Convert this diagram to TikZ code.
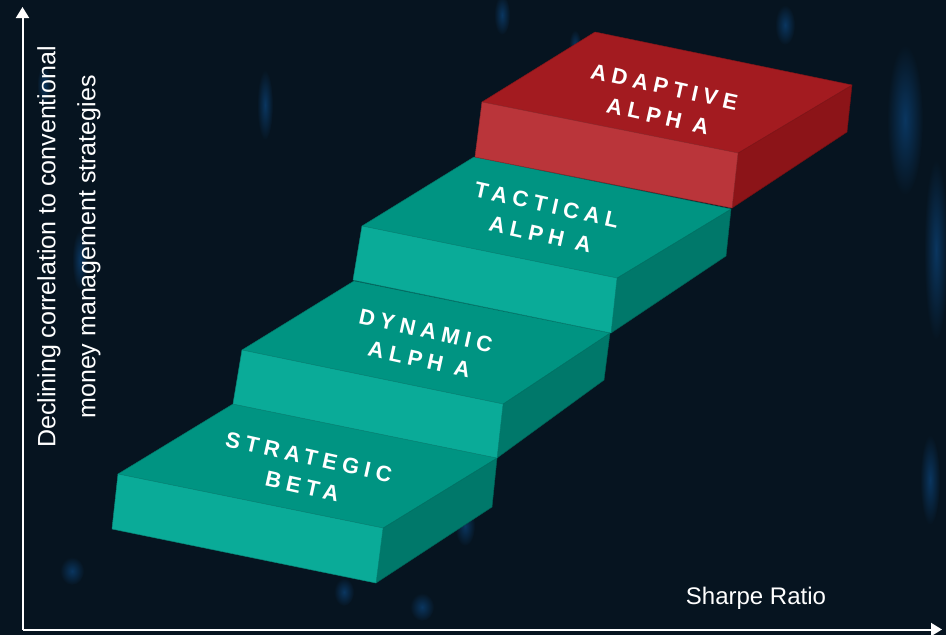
\documentclass[tikz,border=0pt]{standalone}
\usepackage{fontspec}
\setmainfont{Liberation Sans}
\newfontfamily\stepfont[LetterSpace=25]{Liberation Sans Bold}
\usetikzlibrary{arrows.meta}
\definecolor{bg}{HTML}{061420}
\definecolor{spot}{HTML}{0A3660}
\definecolor{ttop}{HTML}{009482}
\definecolor{tfront}{HTML}{0AAB98}
\definecolor{tside}{HTML}{00786A}
\definecolor{rtop}{HTML}{A31B20}
\definecolor{rfront}{HTML}{BA353A}
\definecolor{rside}{HTML}{8C1418}
\tikzset{
  face/.style={line width=0.5pt, line join=round},
  steplabel/.style={text=white, font=\stepfont\fontsize{22}{30}\selectfont, align=center, rotate=-12.5, inner sep=0pt},
  axislabel/.style={text=white, font=\fontsize{25}{40}\selectfont, align=center, inner sep=0pt},
  axis/.style={draw=white, line width=2pt, -{Triangle[width=13pt,length=11pt]}}
}
\newcommand\drawstair[7]{%
  \filldraw[face, fill=#1top, draw=#1top!80!black] #2 -- #3 -- #4 -- #5 -- cycle;
  \filldraw[face, fill=#1front, draw=#1front!80!black] #2 -- #3 -- #7 -- #6 -- cycle;
}
\newcommand\drawside[5]{%
  \filldraw[face, fill=#1side, draw=#1side!80!black] #2 -- #3 -- #4 -- #5 -- cycle;
}
\begin{document}
\begin{tikzpicture}[x=1pt,y=-1pt]
\fill[bg] (0,0) rectangle (946,635);
\useasboundingbox (0,0) rectangle (946,635);
% background bokeh
\foreach \cx/\cy/\rx/\ry in {265/105/8/35, 502/15/8/20, 575/45/6/15, 785/25/10/20,
  905/120/18/75, 936/250/12/90, 72/571/12/14, 465/526/10/20, 422/607/12/14,
  344/592/10/14, 930/480/10/45, 44/85/7/20, 80/260/8/30}
  {\shade[inner color=spot, outer color=bg] (\cx,\cy) ellipse (\rx pt and \ry pt);}
% step 1
\drawside{t}{(383,528)}{(497,458)}{(492,507)}{(376,583)}
\drawstair{t}{(118,474)}{(383,528)}{(497,458)}{(233,404)}{(112,529)}{(376,583)}
% step 2
\drawside{t}{(503,404)}{(610,333)}{(604,380)}{(497,458)}
\drawstair{t}{(242,350)}{(503,404)}{(610,333)}{(354,281)}{(233,404)}{(497,458)}
% step 3
\drawside{t}{(617,278)}{(731,209)}{(726,256)}{(611,333)}
\drawstair{t}{(362,226)}{(617,278)}{(731,209)}{(474,157)}{(353,280)}{(611,333)}
% step 4
\drawside{r}{(738,153)}{(852,85)}{(847,132)}{(732,208)}
\drawstair{r}{(482,102)}{(738,153)}{(852,85)}{(595,32)}{(475,157)}{(732,208)}
% labels
\node[steplabel] (s1) at (305.5,471.5) {STRATEGIC\\BETA};
\node[steplabel] (s2) at (422.5,345) {DYNAMIC\\ALPH A};
\node[steplabel] (s3) at (543.5,219.5) {TACTICAL\\ALPH A};
\node[steplabel] (s4) at (661,101.5) {ADAPTIVE\\ALPH A};
% axes
\coordinate (o) at (22.5,629.5);
\coordinate (ytip) at (22.5,7);
\coordinate (xtip) at (942,629.5);
\draw[axis] (o) -- (ytip);
\draw[axis] (o) -- (xtip);
\node[axislabel, rotate=90] (ylab) at (69,247) {Declining correlation to conventional\\money management strategies};
\node[axislabel, font=\fontsize{24}{28}\selectfont] (xlab) at (756,598) {Sharpe Ratio};
\end{tikzpicture}
\end{document}
